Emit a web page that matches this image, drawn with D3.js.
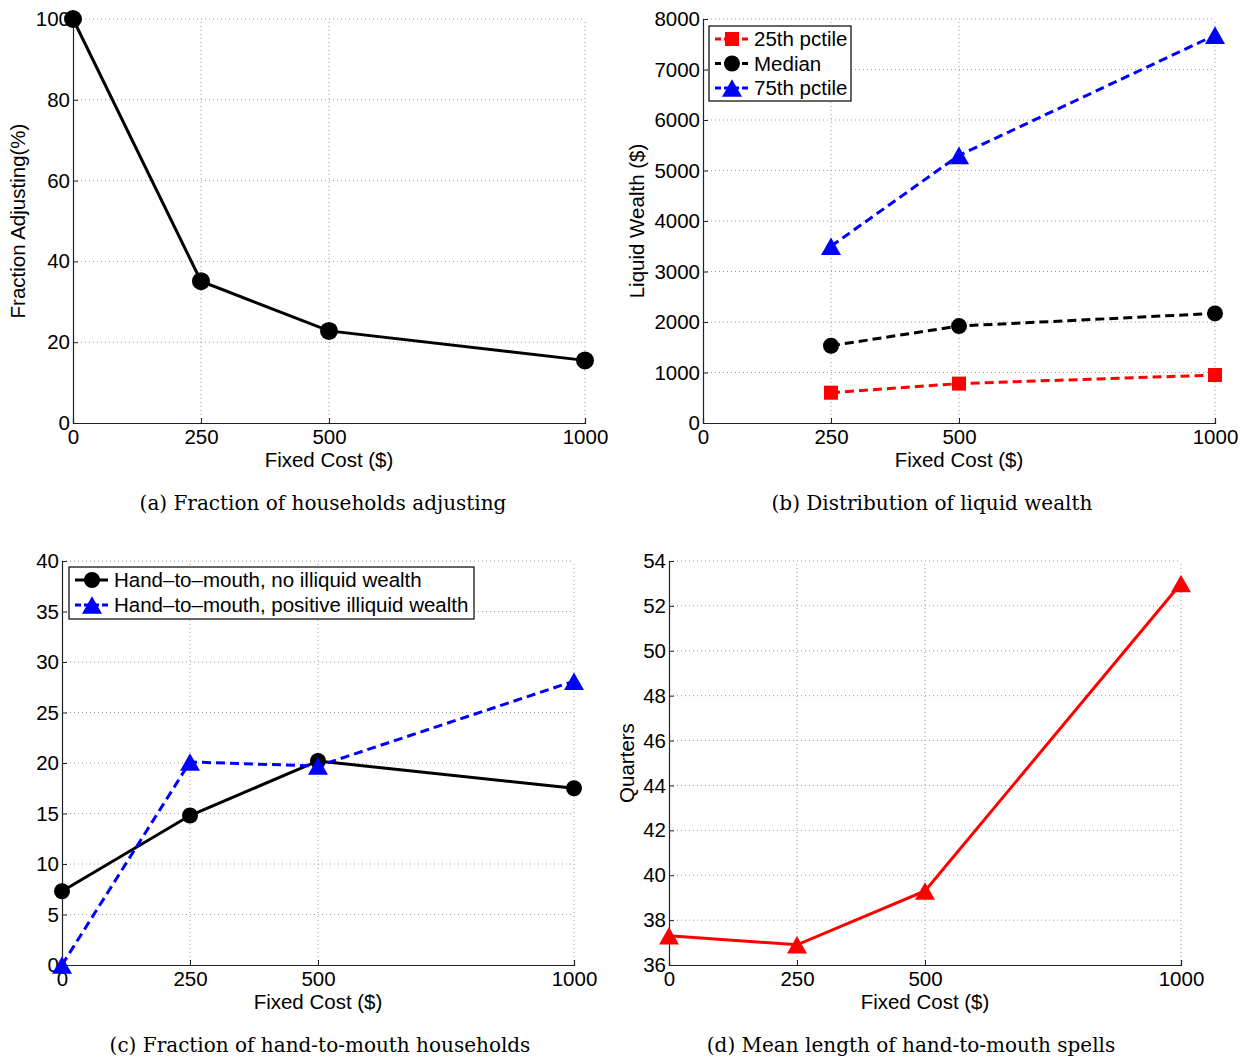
<!DOCTYPE html>
<html>
<head>
<meta charset="utf-8">
<script src="https://cdn.jsdelivr.net/npm/d3@7"></script>
<style>
  html, body { margin: 0; padding: 0; background: #fff; }
  svg { display: block; }
  .tick-label, .axis-title, .legend-text { font-family: "Liberation Sans", Arial, sans-serif; fill: #000; }
  .caption { font-family: "DejaVu Serif", "Liberation Serif", serif; fill: #000; }
</style>
</head>
<body>
<svg id="chart" width="1241" height="1057"></svg>
<script>
// Fixed adjustment cost levels (x values) and axis ticks
const fixedCost = [0, 250, 500, 1000];
const wealthCost = [250, 500, 1000];
const xTicks = [0, 250, 500, 1000];

// (a) Fraction of households adjusting, %
const fracAdjusting = [100, 35.1, 22.8, 15.5];
const ticksA = [0, 20, 40, 60, 80, 100];

// (b) Liquid wealth distribution, $
const wealthP25 = [600, 780, 950];
const wealthMedian = [1530, 1920, 2170];
const wealthP75 = [3500, 5300, 7680];
const ticksB = [0, 1000, 2000, 3000, 4000, 5000, 6000, 7000, 8000];

// (c) Share of hand-to-mouth households, %
const htmNoIlliquid = [7.3, 14.8, 20.2, 17.5];
const htmPosIlliquid = [0, 20.1, 19.7, 28.1];
const ticksC = [0, 5, 10, 15, 20, 25, 30, 35, 40];

// (d) Mean length of hand-to-mouth spells, quarters
const spellLength = [37.3, 36.9, 39.3, 53.0];
const ticksD = [36, 38, 40, 42, 44, 46, 48, 50, 52, 54];

const FONT = "20.5px";
const svg = d3.select("#chart");

// marker shapes
function drawMarker(g, shape, x, y, color, size) {
  if (shape === "circle") {
    g.append("circle").attr("cx", x).attr("cy", y).attr("r", size / 2).attr("fill", color);
  } else if (shape === "square") {
    g.append("rect").attr("x", x - size / 2).attr("y", y - size / 2)
      .attr("width", size).attr("height", size).attr("fill", color);
  } else if (shape === "triangle") {
    const w = size, h = size * 0.88;
    g.append("path")
      .attr("d", `M${x},${y - h / 2}L${x + w / 2},${y + h / 2}L${x - w / 2},${y + h / 2}Z`)
      .attr("fill", color);
  }
}

function panel(cfg) {
  const g = svg.append("g");
  const x = d3.scaleLinear().domain([0, 1000]).range([cfg.left, cfg.left + 512]);
  const y = d3.scaleLinear().domain(cfg.yDomain).range([cfg.top + 404, cfg.top]);

  // dotted grid
  const grid = g.append("g").attr("stroke", "#9a9a9a").attr("stroke-width", 1)
    .attr("stroke-dasharray", "1,3").attr("fill", "none");
  cfg.yTicks.forEach(t => {
    if (t === cfg.yDomain[0]) return;
    grid.append("line").attr("x1", x(0)).attr("x2", x(1000)).attr("y1", y(t)).attr("y2", y(t));
  });
  xTicks.forEach(t => {
    if (t === 0) return;
    grid.append("line").attr("x1", x(t)).attr("x2", x(t)).attr("y1", y(cfg.yDomain[0])).attr("y2", y(cfg.yDomain[1]));
  });

  // axes with inward ticks
  const xAxis = d3.axisBottom(x).tickValues(xTicks).tickSize(-5).tickPadding(6).tickFormat(d3.format("d"));
  const yAxis = d3.axisLeft(y).tickValues(cfg.yTicks).tickSize(-5).tickPadding(3).tickFormat(d3.format("d"));
  const ax = g.append("g").attr("transform", `translate(0,${y(cfg.yDomain[0])})`).call(xAxis);
  const ay = g.append("g").attr("transform", `translate(${x(0)},0)`).call(yAxis);
  [ax, ay].forEach(a => {
    a.select(".domain").attr("stroke", "#222").attr("stroke-width", 1.2);
    a.selectAll(".tick line").attr("stroke", "#222");
    a.selectAll(".tick text").attr("class", "tick-label").style("font-size", FONT)
      .style("font-family", "'Liberation Sans', Arial, sans-serif").attr("fill", "#000");
  });
  ax.selectAll(".tick text").attr("dy", "0.71em");

  // series
  cfg.series.forEach(s => {
    const pts = s.xs.map((v, i) => [x(v), y(s.ys[i])]);
    g.append("path").attr("d", d3.line()(pts)).attr("fill", "none")
      .attr("stroke", s.color).attr("stroke-width", 3)
      .attr("stroke-dasharray", s.dash ? "9,5" : null);
    const mg = g.append("g");
    pts.forEach(p => drawMarker(mg, s.marker, p[0], p[1], s.color, s.size));
  });

  // axis titles
  g.append("text").attr("class", "axis-title").attr("x", x(500)).attr("y", cfg.top + 448)
    .attr("text-anchor", "middle").style("font-size", FONT).text("Fixed Cost ($)");
  if (cfg.yTitle) {
    g.append("text").attr("class", "axis-title")
      .attr("transform", `translate(${cfg.yTitleX},${cfg.top + 202}) rotate(-90)`)
      .attr("text-anchor", "middle").style("font-size", FONT).text(cfg.yTitle);
  }

  // legend
  if (cfg.legend) {
    const L = cfg.legend;
    const lg = g.append("g");
    lg.append("rect").attr("x", L.x).attr("y", L.y).attr("width", L.w).attr("height", L.h)
      .attr("fill", "#fff").attr("stroke", "#000").attr("stroke-width", 1.2);
    cfg.series.forEach((s, i) => {
      const cy = L.y + L.first + i * L.step;
      lg.append("line").attr("x1", L.x + 6).attr("x2", L.x + 39).attr("y1", cy).attr("y2", cy)
        .attr("stroke", s.color).attr("stroke-width", 3).attr("stroke-dasharray", s.dash ? "6,3" : null);
      drawMarker(lg, s.marker, L.x + 23, cy, s.color, s.size);
      lg.append("text").attr("class", "legend-text").attr("x", L.x + 45).attr("y", cy + 7)
        .style("font-size", FONT).text(s.name);
    });
  }

  // caption
  g.append("text").attr("class", "caption").attr("x", cfg.capX).attr("y", cfg.top + 491)
    .attr("text-anchor", "middle").style("font-size", "20px").text(cfg.caption);
}

panel({
  left: 73, top: 19, yDomain: [0, 100], yTicks: ticksA,
  yTitle: "Fraction Adjusting(%)", yTitleX: 25,
  caption: "(a) Fraction of households adjusting", capX: 323,
  series: [{ xs: fixedCost, ys: fracAdjusting, color: "#000", marker: "circle", size: 18, dash: false }]
});

panel({
  left: 703, top: 19, yDomain: [0, 8000], yTicks: ticksB,
  yTitle: "Liquid Wealth ($)", yTitleX: 644,
  caption: "(b) Distribution of liquid wealth", capX: 932,
  legend: { x: 709, y: 26, w: 142, h: 75, first: 13, step: 24.5 },
  series: [
    { name: "25th pctile", xs: wealthCost, ys: wealthP25, color: "#ff0000", marker: "square", size: 14, dash: true },
    { name: "Median", xs: wealthCost, ys: wealthMedian, color: "#000", marker: "circle", size: 16, dash: true },
    { name: "75th pctile", xs: wealthCost, ys: wealthP75, color: "#0000ff", marker: "triangle", size: 20, dash: true }
  ]
});

panel({
  left: 62, top: 561, yDomain: [0, 40], yTicks: ticksC,
  caption: "(c) Fraction of hand-to-mouth households", capX: 320,
  legend: { x: 69, y: 567, w: 405, h: 52, first: 13, step: 25 },
  series: [
    { name: "Hand\u2013to\u2013mouth, no illiquid wealth", xs: fixedCost, ys: htmNoIlliquid, color: "#000", marker: "circle", size: 16, dash: false },
    { name: "Hand\u2013to\u2013mouth, positive illiquid wealth", xs: fixedCost, ys: htmPosIlliquid, color: "#0000ff", marker: "triangle", size: 20, dash: true }
  ]
});

panel({
  left: 669, top: 561, yDomain: [36, 54], yTicks: ticksD,
  yTitle: "Quarters", yTitleX: 634,
  caption: "(d) Mean length of hand-to-mouth spells", capX: 911,
  series: [{ xs: fixedCost, ys: spellLength, color: "#ff0000", marker: "triangle", size: 20, dash: false }]
});
</script>
</body>
</html>
